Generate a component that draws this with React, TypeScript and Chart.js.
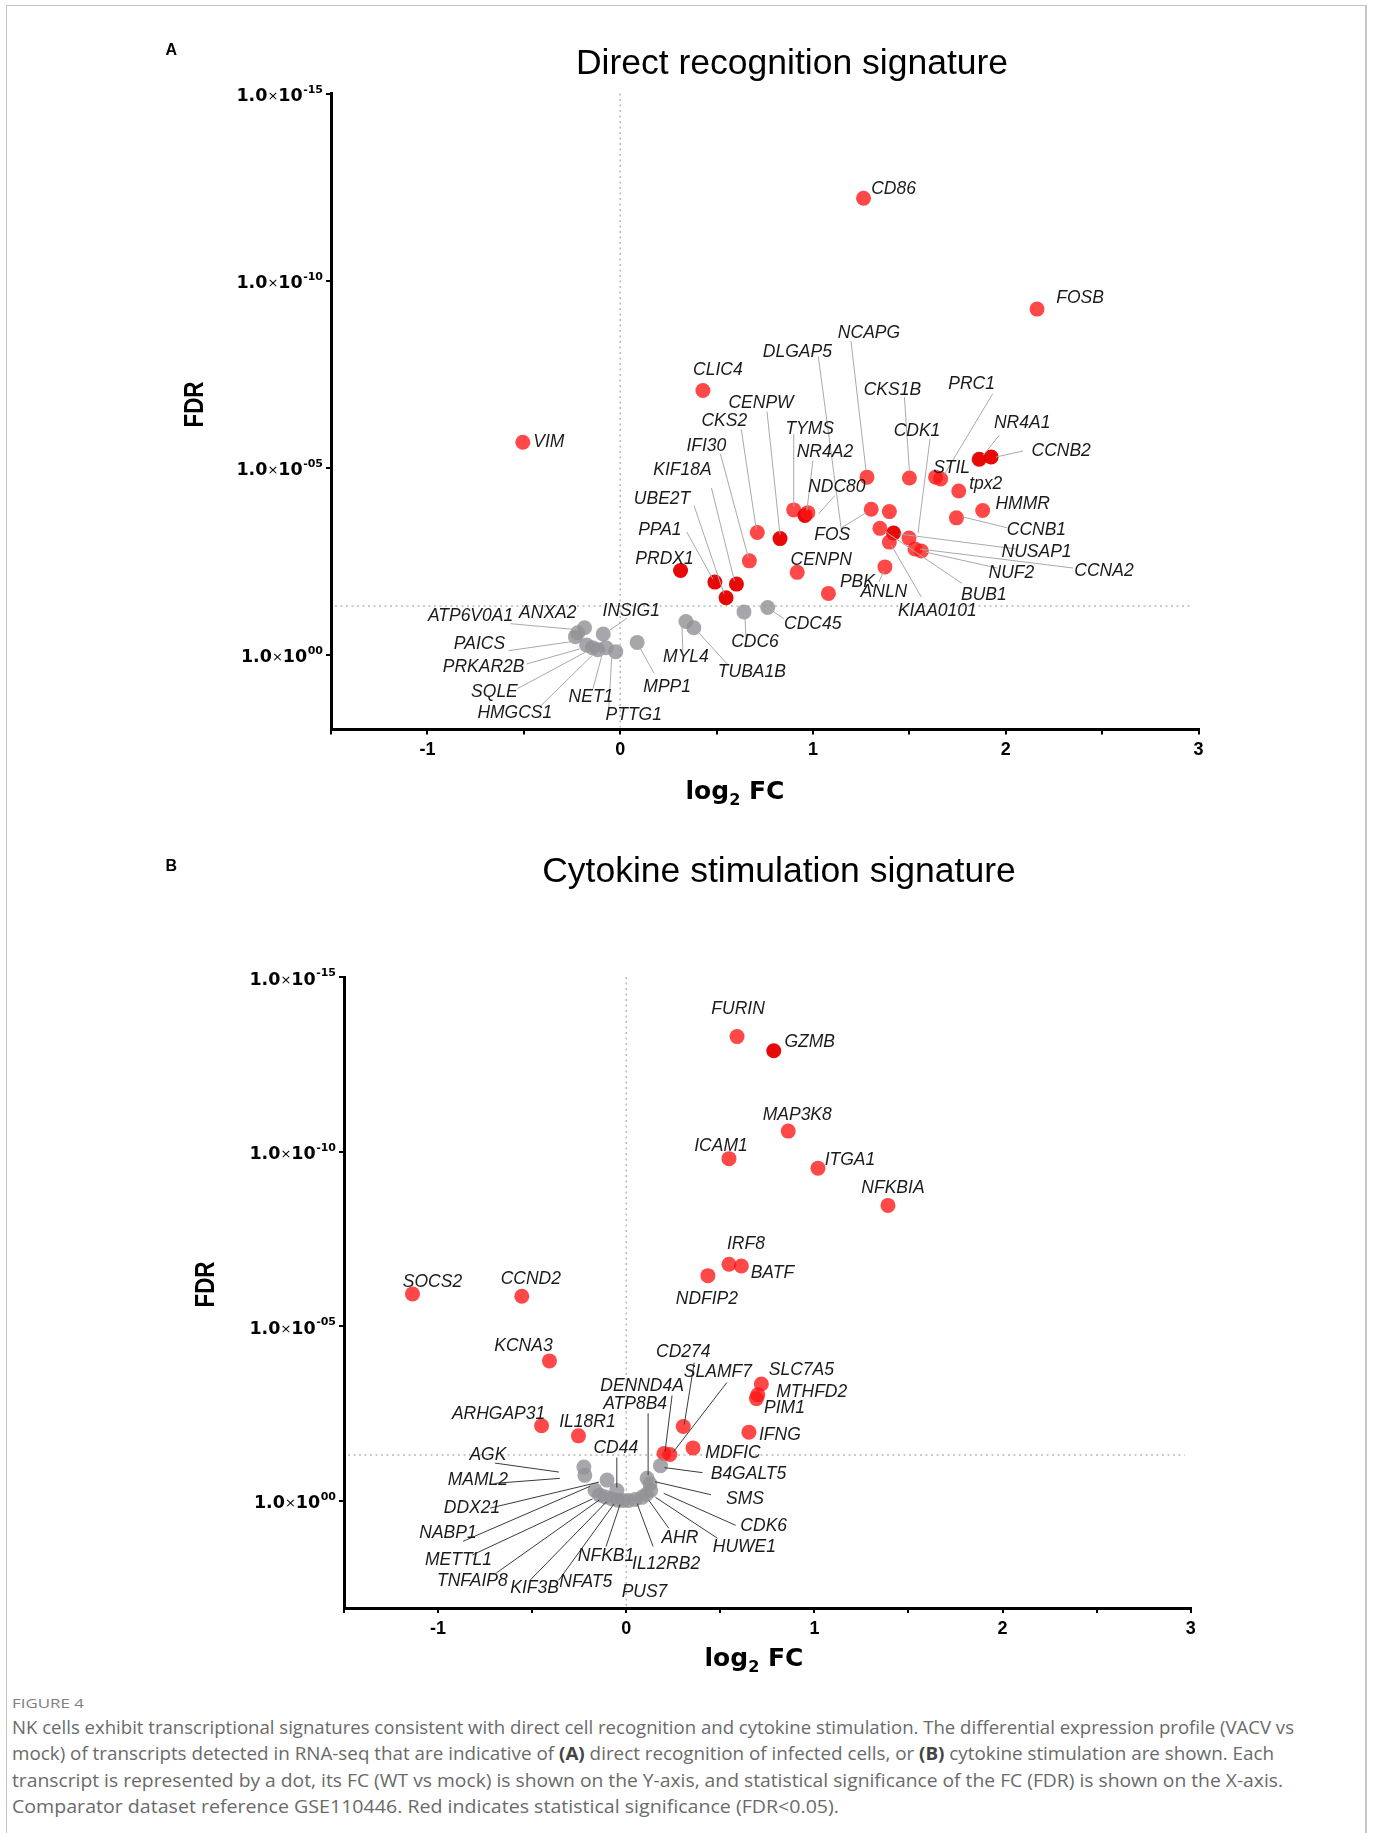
import React, { useEffect, useRef } from "react";
import { Chart, registerables } from "chart.js";

Chart.register(...registerables);

const SANS = '"Liberation Sans", Arial, Helvetica, sans-serif';
const WIDE = '"DejaVu Sans", Verdana, sans-serif';

// ---------------- Panel A : Direct recognition signature ----------------
const genesA = [
  "VIM", "CLIC4", "CD86", "FOSB", "NR4A1", "CCNB2", "NCAPG", "CKS1B", "STIL", "PRC1",
  "tpx2", "HMMR", "CCNB1", "FOS", "CDK1", "NUSAP1", "CCNA2", "NUF2", "BUB1", "KIAA0101",
  "ANLN", "DLGAP5", "TYMS", "NR4A2", "NDC80", "CENPW", "CKS2", "IFI30", "KIF18A", "PPA1",
  "UBE2T", "PRDX1", "CENPN", "PBK",
  "ATP6V0A1", "ANXA2", "PAICS", "PRKAR2B", "SQLE", "HMGCS1", "NET1", "PTTG1", "INSIG1",
  "MPP1", "MYL4", "TUBA1B", "CDC6", "CDC45",
];
const log2fcA = [
  -0.505, 0.429, 1.262, 2.162, 1.862, 1.924, 1.28, 1.5, 1.636, 1.662,
  1.756, 1.88, 1.744, 1.302, 1.498, 1.418, 1.529, 1.562, 1.347, 1.396,
  1.373, 1.396, 0.9, 0.958, 0.973, 0.829, 0.711, 0.67, 0.603, 0.491,
  0.549, 0.313, 0.918, 1.08,
  -0.185, -0.22, -0.232, -0.174, -0.144, -0.116, -0.074, -0.023, -0.088,
  0.088, 0.341, 0.382, 0.642, 0.765,
];
const fdrA = [
  2.1e-6, 8.7e-8, 6.3e-13, 5.8e-10, 6.0e-6, 5.2e-6, 1.8e-5, 1.9e-5, 1.8e-5, 2.0e-5,
  4.2e-5, 1.4e-4, 2.2e-4, 1.3e-4, 7.6e-4, 5.6e-4, 1.5e-3, 1.7e-3, 4.2e-4, 9.8e-4,
  4.5e-3, 1.5e-4, 1.35e-4, 1.9e-4, 1.6e-4, 7.9e-4, 5.4e-4, 3.1e-3, 1.3e-2, 1.15e-2,
  3.0e-2, 5.6e-3, 6.3e-3, 2.3e-2,
  0.19, 0.26, 0.33, 0.55, 0.65, 0.74, 0.65, 0.83, 0.28,
  0.47, 0.13, 0.19, 0.072, 0.055,
];

// ---------------- Panel B : Cytokine stimulation signature ----------------
const genesB = [
  "FURIN", "GZMB", "MAP3K8", "ICAM1", "ITGA1", "NFKBIA", "IRF8", "BATF", "NDFIP2", "SOCS2",
  "CCND2", "KCNA3", "SLC7A5", "MTHFD2", "PIM1", "ARHGAP31", "CD274", "IFNG", "IL18R1", "MDFIC",
  "DENND4A", "SLAMF7",
  "AGK", "MAML2", "DDX21", "NABP1", "METTL1", "TNFAIP8", "KIF3B", "NFAT5", "NFKB1", "PUS7",
  "IL12RB2", "AHR", "HUWE1", "CDK6", "SMS", "B4GALT5", "CD44", "ATP8B4",
];
const log2fcB = [
  0.589, 0.784, 0.861, 0.546, 1.019, 1.391, 0.546, 0.612, 0.434, -1.136,
  -0.555, -0.408, 0.718, 0.699, 0.692, -0.45, 0.303, 0.652, -0.254, 0.355,
  0.201, 0.232,
  -0.225, -0.22, -0.102, -0.166, -0.142, -0.111, -0.078, -0.045, -0.017, 0.012,
  0.047, 0.083, 0.107, 0.13, 0.126, 0.182, -0.05, 0.111,
];
const fdrB = [
  5.1e-14, 1.3e-13, 2.6e-11, 1.6e-10, 3.0e-10, 3.5e-9, 1.7e-7, 1.9e-7, 3.6e-7, 1.2e-6,
  1.4e-6, 1.0e-4, 4.6e-4, 9.3e-4, 1.2e-3, 7.2e-3, 7.6e-3, 1.1e-2, 1.4e-2, 3.1e-2,
  4.5e-2, 4.8e-2,
  0.11, 0.19, 0.26, 0.51, 0.69, 0.79, 0.89, 0.98, 1, 1,
  0.93, 0.81, 0.66, 0.51, 0.33, 0.1, 0.52, 0.23,
];

// shared axis settings
const yTickValues = [1e-15, 1e-10, 1e-5, 1];
const xMin = -1.5;
const xMax = 3;
const xStep = 0.5;
const fdrThreshold = 0.05;

// ---------------- label placement (pixel offsets from each dot; style only) ----------------
// [textDx, textDy, lineX1, lineY1, lineX2, lineY2]
const labelLayoutA = [
  [26, 0], [15, -20], [30, -9], [43, -11], [43, -36, 20, -24, 4, -4], [70, -6, 32, -6, 5, 0],
  [2, -144, -16, -136, -1, -7], [-17, -88, -5, -81, 0, -7], [16, -9], [31, -95, 52, -85, 4, -5],
  [27, -7], [40, -6], [80, 12, 51, 10, 6, -1], [-39, 26, -29, 18, -6, 4], [8, -107, 21, -99, 9, -5],
  [143, 19, 123, 16, 6, 1], [189, 22, 158, 19, 5, 0], [90, 22, 76, 17, 4, 1], [104, 67, 82, 55, 5, 3],
  [48, 69, 32, 55, 2, 3], [-1, 25, -6, 15, -1, 4], [-92, -159, -71, -155, -48, 18],
  [16, -81, 0, -76, 0, -3], [20, -63, 8, -55, 2, -5], [29, -26, 27, -17, 11, 1],
  [-19, -135, -13, -127, 0, -4], [-33, -111, -16, -103, -1, -3], [-43, -115, -29, -107, -1, -3],
  [-54, -114, -25, -96, -2, -3], [-55, -52, -28, -50, -2, -3], [-64, -99, -32, -92, -2, -4],
  [-16, -11], [24, -12], [29, -11],
  [-114, -12, -74, -4, -7, 2], [-30, -20], [-96, 7, -67, 14, -4, 5], [-103, 22, -60, 19, -7, 4],
  [-98, 44, -75, 41, -6, 4], [-83, 63, -58, 57, -4, 4], [-15, 49, -13, 41, -3, 4],
  [18, 63, -7, 57, -4, 4], [28, -23, 24, -16, 4, -2], [30, 45, 17, 31, 2, 4],
  [0, 36, -3, 30, -4, 5], [58, 44, 34, 37, 3, 3], [11, 30, 2, 27, 1, 5], [45, 17, 16, 11, 4, 3],
];
const labelLayoutB = [
  [1, -27], [36, -9], [9, -16], [-8, -13], [32, -8], [5, -17], [17, -20], [31, 7], [-1, 23],
  [20, -12], [9, -17], [-26, -15], [40, -14], [54, -3], [28, 10], [-43, -12],
  [0, -74, 11, -64, 1, -2], [31, 3], [9, -14], [40, 5],
  [-22, -67, 8, -58, 1, -2], [48, -82, 57, -72, 3, -2],
  [-96, -12, -89, -4, -25, 5], [-107, 5, -90, 8, -25, 3], [-135, 28, -117, 28, -8, 2],
  [-147, 43, -132, 51, -5, -4], [-141, 65, -127, 60, -7, 4], [-133, 84, -109, 76, -6, 3],
  [-77, 89, -81, 81, -5, 3], [-32, 82, -59, 80, -4, 4], [-17, 56, -17, 46, -3, 4], [16, 92],
  [31, 65, 18, 47, 2, 4], [38, 41, 27, 31, 7, 3], [98, 53, 71, 44, 9, 3], [113, 36, 85, 35, 13, 3],
  [95, 15, 61, 11, 5, -2], [88, 8, 42, 7, 4, 2], [-1, -42, 0, -33, 0, -3], [-12, -74, 1, -65, 1, -3],
];
const darkA = ["NR4A1", "CCNB2", "NUSAP1", "NR4A2", "CENPW", "KIF18A", "PPA1", "UBE2T", "PRDX1"];
const darkB = ["GZMB"];

const RED = "rgba(255, 20, 20, 0.78)";
const DARK_RED = "rgba(230, 0, 0, 0.97)";
const GREY = "rgba(145, 145, 150, 0.8)";

type PanelCfg = {
  genes: string[];
  fc: number[];
  fdr: number[];
  layout: number[][];
  dark: string[];
  yMax: number;
  canvasTop: number;
  canvasHeight: number;
  plot: { left: number; right: number; top: number; bottom: number };
  leaderColor: string;
  fdrTitle: [number, number];
  xTitle: [number, number];
};

const W = 1373;

function makeDecor(cfg: PanelCfg) {
  return {
    id: "volcanoDecor",
    beforeDatasetsDraw(chart: any) {
      const { ctx, chartArea, scales } = chart;
      const x = scales.x;
      const y = scales.y;
      ctx.save();
      ctx.strokeStyle = "#b9b9b9";
      ctx.lineWidth = 1.5;
      ctx.setLineDash([2, 3.5]);
      const x0 = x.getPixelForValue(0);
      ctx.beginPath();
      ctx.moveTo(x0, chartArea.top);
      ctx.lineTo(x0, chartArea.bottom - 2);
      ctx.stroke();
      const yT = y.getPixelForValue(fdrThreshold);
      ctx.beginPath();
      ctx.moveTo(chartArea.left + 4, yT);
      ctx.lineTo(chartArea.right - 6, yT);
      ctx.stroke();
      ctx.restore();
    },
    afterDatasetsDraw(chart: any) {
      const { ctx, scales } = chart;
      const x = scales.x;
      const y = scales.y;
      ctx.save();
      ctx.setLineDash([]);
      ctx.strokeStyle = cfg.leaderColor;
      ctx.lineWidth = 1;
      cfg.genes.forEach((g, i) => {
        const L = cfg.layout[i];
        if (!L || L.length < 6) return;
        const px = x.getPixelForValue(cfg.fc[i]);
        const py = y.getPixelForValue(cfg.fdr[i]);
        ctx.beginPath();
        ctx.moveTo(px + L[2], py + L[3]);
        ctx.lineTo(px + L[4], py + L[5]);
        ctx.stroke();
      });
      ctx.font = `italic 17.5px ${SANS}`;
      ctx.fillStyle = "#1b1b1b";
      ctx.textAlign = "center";
      ctx.textBaseline = "middle";
      cfg.genes.forEach((g, i) => {
        const L = cfg.layout[i];
        if (!L) return;
        const px = x.getPixelForValue(cfg.fc[i]);
        const py = y.getPixelForValue(cfg.fdr[i]);
        ctx.fillText(g, px + L[0], py + L[1]);
      });
      ctx.restore();
    },
    afterDraw(chart: any) {
      const { ctx, chartArea, scales } = chart;
      const y = scales.y;
      ctx.save();
      ctx.fillStyle = "#000";
      ctx.textAlign = "right";
      ctx.textBaseline = "alphabetic";
      for (const v of yTickValues) {
        const py = y.getPixelForValue(v);
        const exp = Math.round(Math.log10(v));
        const sup = (exp < 0 ? "-" : "") + String(Math.abs(exp)).padStart(2, "0");
        let xr = chartArea.left - 8;
        ctx.font = `bold 11px ${WIDE}`;
        ctx.fillText(sup, xr, py - 1);
        xr -= ctx.measureText(sup).width + 0.5;
        ctx.font = `bold 17.5px ${WIDE}`;
        ctx.fillText("10", xr, py + 7.5);
        xr -= ctx.measureText("10").width;
        ctx.font = `13px ${WIDE}`;
        ctx.fillText("\u00d7", xr, py + 6.5);
        xr -= ctx.measureText("\u00d7").width;
        ctx.font = `bold 17.5px ${WIDE}`;
        ctx.fillText("1.0", xr, py + 7.5);
      }
      // y-axis title
      const top = cfg.canvasTop;
      ctx.save();
      ctx.translate(cfg.fdrTitle[0], cfg.fdrTitle[1] - top);
      ctx.rotate(-Math.PI / 2);
      ctx.scale(0.8, 1);
      ctx.font = `bold 28px ${SANS}`;
      ctx.textAlign = "center";
      ctx.textBaseline = "middle";
      ctx.fillText("FDR", 0, 0);
      ctx.restore();
      // x-axis title: log2 FC
      const big = `bold 25px ${WIDE}`;
      const small = `bold 16px ${WIDE}`;
      ctx.font = big;
      const wLog = ctx.measureText("log").width;
      const wFC = ctx.measureText(" FC").width;
      ctx.font = small;
      const w2 = ctx.measureText("2").width;
      const total = wLog + w2 + wFC;
      let xs = cfg.xTitle[0] - total / 2;
      const base = cfg.xTitle[1] - top;
      ctx.textAlign = "left";
      ctx.font = big;
      ctx.fillText("log", xs, base);
      xs += wLog;
      ctx.font = small;
      ctx.fillText("2", xs, base + 6);
      xs += w2;
      ctx.font = big;
      ctx.fillText(" FC", xs, base);
      ctx.restore();
    },
  };
}

function VolcanoPanel({ cfg }: { cfg: PanelCfg }) {
  const ref = useRef<HTMLCanvasElement | null>(null);
  useEffect(() => {
    const canvas = ref.current;
    if (!canvas) return;
    const plotTop = cfg.plot.top - cfg.canvasTop;
    const plotBottom = cfg.plot.bottom - cfg.canvasTop;
    const tickGrid = {
      display: true,
      drawOnChartArea: false,
      drawTicks: true,
      tickLength: 5,
      color: "#000",
      lineWidth: 2,
    };
    const border = { display: true, color: "#000", width: 3 };
    const chart = new Chart(canvas, {
      type: "scatter",
      data: {
        datasets: [
          {
            data: cfg.genes.map((g, i) => ({ x: cfg.fc[i], y: cfg.fdr[i] })),
            pointRadius: 7.5,
            pointHoverRadius: 7.5,
            pointBorderWidth: 0,
            pointBackgroundColor: (c: any) => {
              const i = c.dataIndex;
              if (cfg.fdr[i] >= fdrThreshold) return GREY;
              return cfg.dark.includes(cfg.genes[i]) ? DARK_RED : RED;
            },
          },
        ],
      },
      options: {
        animation: false,
        responsive: false,
        maintainAspectRatio: false,
        events: [],
        layout: { padding: { left: 0, top: plotTop, right: W - cfg.plot.right, bottom: 0 } },
        plugins: { legend: { display: false }, tooltip: { enabled: false }, title: { display: false } },
        scales: {
          x: {
            type: "linear",
            min: xMin,
            max: xMax,
            afterFit: (s: any) => {
              s.height = cfg.canvasHeight - plotBottom;
            },
            ticks: {
              stepSize: xStep,
              autoSkip: false,
              maxRotation: 0,
              padding: 5,
              color: "#000",
              font: { family: SANS, size: 18, weight: "bold" },
              callback: (v: any) => (Number.isInteger(v) ? String(v) : ""),
            },
            grid: tickGrid,
            border,
          },
          y: {
            type: "logarithmic",
            min: 1e-15,
            max: cfg.yMax,
            reverse: true,
            afterFit: (s: any) => {
              s.width = cfg.plot.left;
            },
            afterBuildTicks: (s: any) => {
              s.ticks = yTickValues.map((v) => ({ value: v }));
            },
            ticks: { display: false },
            grid: tickGrid,
            border,
          },
        },
      },
      plugins: [makeDecor(cfg)],
    } as any);
    return () => chart.destroy();
  }, []);
  return (
    <canvas
      ref={ref}
      width={W}
      height={cfg.canvasHeight}
      style={{ position: "absolute", left: 0, top: cfg.canvasTop, width: W, height: cfg.canvasHeight }}
    />
  );
}

const panelA: PanelCfg = {
  genes: genesA,
  fc: log2fcA,
  fdr: fdrA,
  layout: labelLayoutA,
  dark: darkA,
  yMax: 100,
  canvasTop: 0,
  canvasHeight: 830,
  plot: { left: 331, right: 1198.6, top: 93.5, bottom: 729.5 },
  leaderColor: "#a9a9a9",
  fdrTitle: [195.5, 404.5],
  xTitle: [735, 799],
};

const panelB: PanelCfg = {
  genes: genesB,
  fc: log2fcB,
  fdr: fdrB,
  layout: labelLayoutB,
  dark: darkB,
  yMax: 1200,
  canvasTop: 830,
  canvasHeight: 850,
  plot: { left: 344, right: 1190.7, top: 977, bottom: 1608 },
  leaderColor: "#3a3a3a",
  fdrTitle: [206, 1284.5],
  xTitle: [754, 1666],
};

const captionLines = [
  ["NK cells exhibit transcriptional signatures consistent with direct cell recognition and cytokine stimulation. The differential expression profile (VACV vs"],
  ["mock) of transcripts detected in RNA-seq that are indicative of ", "(A)", " direct recognition of infected cells, or ", "(B)", " cytokine stimulation are shown. Each"],
  ["transcript is represented by a dot, its FC (WT vs mock) is shown on the Y-axis, and statistical significance of the FC (FDR) is shown on the X-axis."],
  ["Comparator dataset reference GSE110446. Red indicates statistical significance (FDR<0.05)."],
];
const captionLeft = 12;
const captionWidths = [1282, 1262, 1271, 827];
const captionBaselines = [1733, 1759.5, 1786, 1812.5];

function Caption() {
  const refs = useRef<(HTMLSpanElement | null)[]>([]);
  const figRef = useRef<HTMLSpanElement | null>(null);
  useEffect(() => {
    const fit = () => {
      refs.current.forEach((el, i) => {
        if (!el) return;
        el.style.transform = "none";
        const w = el.getBoundingClientRect().width;
        if (w > 0) el.style.transform = `scaleX(${captionWidths[i] / w})`;
      });
      const f = figRef.current;
      if (f) {
        f.style.transform = "none";
        const w = f.getBoundingClientRect().width;
        if (w > 0) f.style.transform = `scaleX(${72 / w})`;
      }
    };
    fit();
    if ((document as any).fonts && (document as any).fonts.ready) (document as any).fonts.ready.then(fit);
  }, []);
  const fs = 17.5;
  return (
    <>
      <span
        ref={figRef}
        style={{
          position: "absolute",
          left: captionLeft,
          top: 1709 - 13,
          fontFamily: '"Open Sans", "Noto Sans", sans-serif',
          fontSize: 12.5,
          lineHeight: "16px",
          color: "#808080",
          whiteSpace: "nowrap",
          transformOrigin: "left center",
          display: "inline-block",
        }}
      >
        FIGURE 4
      </span>
      {captionLines.map((parts, i) => (
        <span
          key={i}
          ref={(el) => {
            refs.current[i] = el;
          }}
          style={{
            position: "absolute",
            left: captionLeft,
            top: captionBaselines[i] - 17.5,
            height: 22,
            fontFamily: '"Open Sans", "Noto Sans", sans-serif',
            fontSize: fs,
            lineHeight: "22px",
            color: "#6a6a6a",
            whiteSpace: "nowrap",
            transformOrigin: "left center",
            display: "inline-block",
          }}
        >
          {parts.map((p, j) =>
            p === "(A)" || p === "(B)" ? (
              <b key={j} style={{ color: "#444" }}>
                {p}
              </b>
            ) : (
              <React.Fragment key={j}>{p}</React.Fragment>
            )
          )}
        </span>
      ))}
    </>
  );
}

export default function App() {
  const titleStyle: React.CSSProperties = {
    position: "absolute",
    width: 800,
    textAlign: "center",
    fontFamily: SANS,
    fontSize: 35.5,
    lineHeight: "35.5px",
    color: "#000",
    whiteSpace: "nowrap",
  };
  const letterStyle: React.CSSProperties = {
    position: "absolute",
    fontFamily: SANS,
    fontWeight: "bold",
    fontSize: 16,
    lineHeight: "16px",
    color: "#000",
  };
  return (
    <div
      style={{
        position: "absolute",
        left: 0,
        top: 0,
        width: W,
        height: 1833,
        overflow: "hidden",
        background: "#fff",
      }}
    >
      <div
        style={{
          position: "absolute",
          left: 6,
          top: 5,
          width: 1358,
          height: 1900,
          borderTop: "1px solid #c6c6c6",
          borderLeft: "1px solid #c6c6c6",
          borderRight: "2px solid #c6c6c6",
        }}
      />
      <VolcanoPanel cfg={panelA} />
      <VolcanoPanel cfg={panelB} />
      <div style={{ ...letterStyle, left: 165.5, top: 41.5 }}>A</div>
      <div style={{ ...letterStyle, left: 165.5, top: 858 }}>B</div>
      <div style={{ ...titleStyle, left: 792 - 400, top: 44.5 }}>Direct recognition signature</div>
      <div style={{ ...titleStyle, left: 779 - 400, top: 853 }}>Cytokine stimulation signature</div>
      <Caption />
    </div>
  );
}
